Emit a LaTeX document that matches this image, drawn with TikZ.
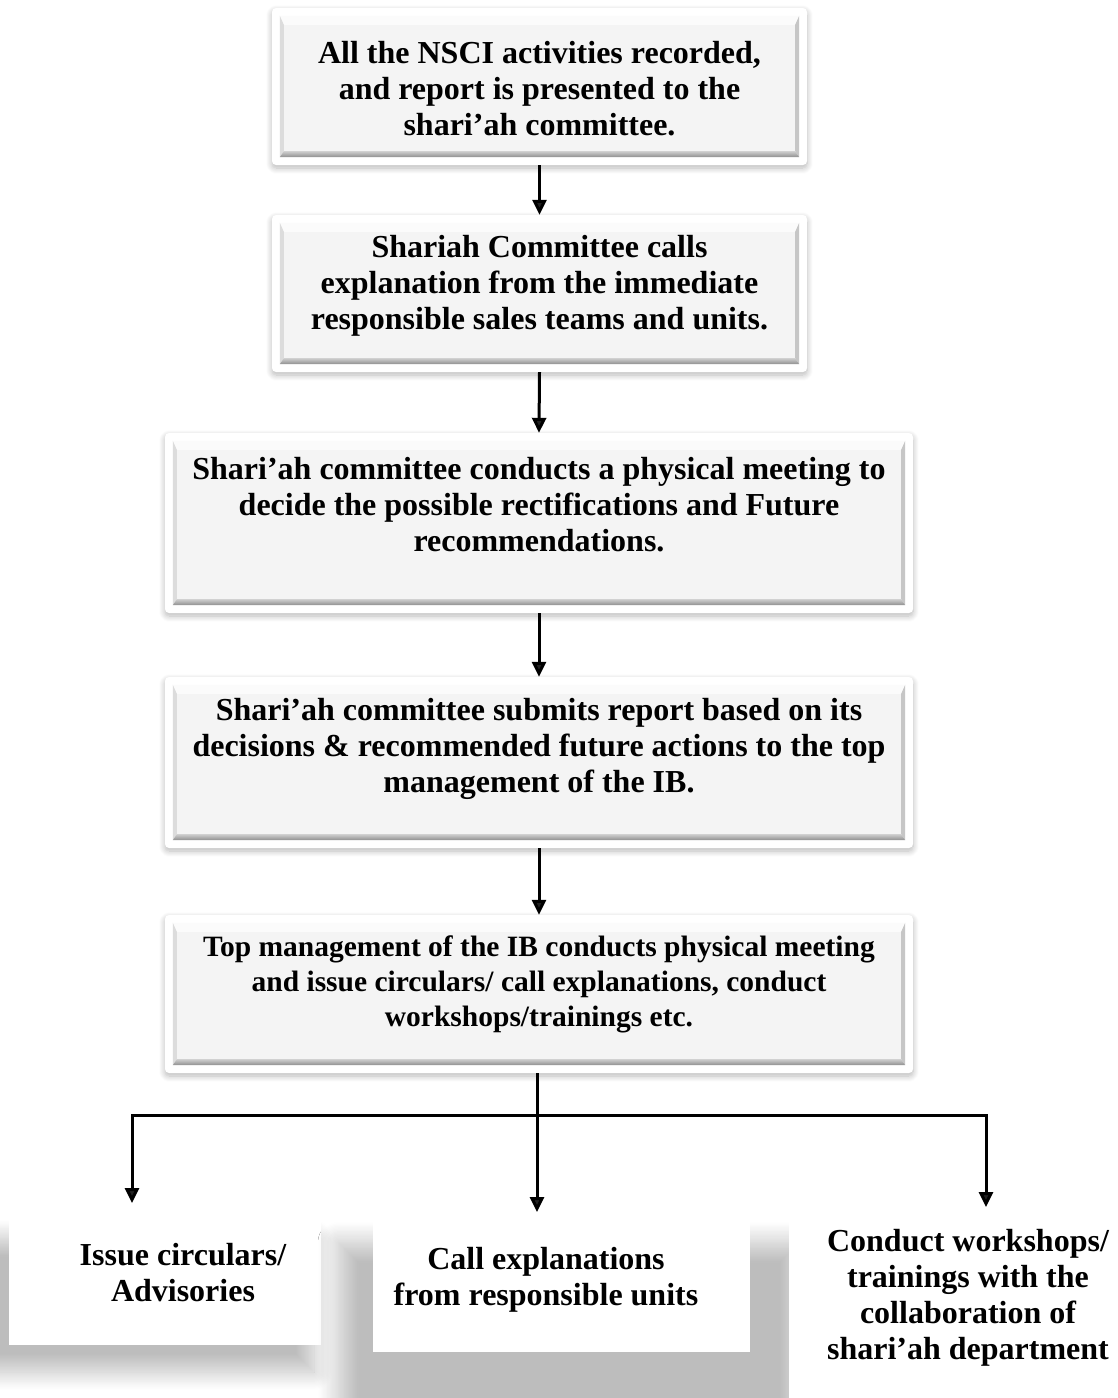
\documentclass[tikz,border=0pt]{standalone}
\usepackage{fontspec}
\setmainfont{Liberation Serif}
\usetikzlibrary{arrows.meta,shadows.blur}

\definecolor{facegray}{HTML}{F4F4F4}
\definecolor{bevtop}{HTML}{FBFBFB}
\definecolor{bevleft}{HTML}{DCDCDC}
\definecolor{bevright}{HTML}{C6C6C6}
\definecolor{bevbotA}{HTML}{CFCFCF}
\definecolor{bevbotB}{HTML}{8E8E8E}

\tikzset{
  frame/.style={fill=white, draw=none, rounded corners=4pt, inner sep=0pt,
    blur shadow={shadow xshift=0pt, shadow yshift=-3pt, shadow blur radius=6pt,
      shadow blur steps=8, shadow opacity=28}},
  txt/.style={font=\bfseries\fontsize{32}{36}\selectfont, align=center, inner sep=0pt},
  smalltxt/.style={font=\bfseries\fontsize{29.5}{35}\selectfont, align=center, inner sep=0pt},
  flatbox/.style={fill=white, draw=none, inner sep=0pt},
  softshadow/.style={blur shadow={shadow xshift=0pt, shadow yshift=0pt, shadow blur radius=#1,
    shadow blur steps=16, shadow opacity=26}},
  link/.style={line width=3pt, line join=miter, -{Triangle[length=15pt,width=14pt]}},
}

% gray bevelled face drawn inside a white frame node
\newcommand\bevelface[1]{%
  \coordinate (#1-nw) at ([shift={(8pt,-8pt)}]#1.north west);
  \coordinate (#1-ne) at ([shift={(-8pt,-8pt)}]#1.north east);
  \coordinate (#1-se) at ([shift={(-8pt,8pt)}]#1.south east);
  \coordinate (#1-sw) at ([shift={(8pt,8pt)}]#1.south west);
  \fill[facegray] (#1-nw) rectangle (#1-se);
  \fill[bevtop] (#1-nw) -- (#1-ne) -- ([shift={(-4pt,-9pt)}]#1-ne) -- ([shift={(4pt,-9pt)}]#1-nw) -- cycle;
  \fill[bevleft] (#1-nw) -- ([shift={(4pt,-9pt)}]#1-nw) -- ([shift={(4pt,6pt)}]#1-sw) -- (#1-sw) -- cycle;
  \fill[bevright] (#1-ne) -- ([shift={(-4pt,-9pt)}]#1-ne) -- ([shift={(-4pt,6pt)}]#1-se) -- (#1-se) -- cycle;
  \shade[top color=bevbotA, bottom color=bevbotB] (#1-sw) -- ([shift={(4pt,6pt)}]#1-sw) -- ([shift={(-4pt,6pt)}]#1-se) -- (#1-se) -- cycle;
}

\begin{document}
\begin{tikzpicture}[x=1pt, y=-1pt]
\useasboundingbox (0,0) rectangle (1118,1398);
\clip (0,0) rectangle (1118,1398);

% ---- main chain of bevelled boxes
\node[frame, minimum width=535pt, minimum height=157pt] (b1) at (539.5,86.5) {};
\bevelface{b1}
\node[txt] (t1) at (539.5,89) {All the NSCI activities recorded,\\and report is presented to the\\shari’ah committee.};

\node[frame, minimum width=535pt, minimum height=157pt] (b2) at (539.5,293.5) {};
\bevelface{b2}
\node[txt] (t2) at (539.5,286) {Shariah Committee calls\\explanation from the immediate\\responsible sales teams and units.};

\node[frame, minimum width=748pt, minimum height=180pt] (b3) at (539,523) {};
\bevelface{b3}
\node[txt] (t3) at (539,505) {Shari’ah committee conducts a physical meeting to\\decide the possible rectifications and Future\\recommendations.};

\node[frame, minimum width=748pt, minimum height=171pt] (b4) at (539,762.5) {};
\bevelface{b4}
\node[txt] (t4) at (539,749) {Shari’ah committee submits report based on its\\decisions \& recommended future actions to the top\\management of the IB.};

\node[frame, minimum width=748pt, minimum height=158pt] (b5) at (539,994) {};
\bevelface{b5}
\node[smalltxt] (t5) at (539,984) {Top management of the IB conducts physical meeting\\and issue circulars/ call explanations, conduct\\workshops/trainings etc.};

% ---- bottom row: white panels with wide soft shadows
\path[softshadow=18pt] (-25,1238) rectangle (314,1372);
\node[flatbox, minimum width=312pt, minimum height=148pt] (c1) at (165,1271) {};
\path[softshadow=20pt] (338,1242) rectangle (800,1430);
\node[flatbox, minimum width=377pt, minimum height=149pt] (c2) at (561.5,1277.5) {};
\node[flatbox, minimum width=361pt, minimum height=200pt] (c3) at (969.5,1305) {};

\node[txt] (u1) at (183,1273) {Issue circulars/\\Advisories};
\node[txt] (u2) at (546,1280) {Call explanations\\from responsible units};
\node[txt] (u3) at (968,1298) {Conduct workshops/\\trainings with the\\collaboration of\\shari’ah department};

% ---- connectors
\draw[link] (b1.south) -- (b2.north);
\draw[link] (b2.south) -- (b3.north);
\draw[link] (b3.south) -- (b4.north);
\draw[link] (b4.south) -- (b5.north);

\coordinate (j)  at (537,1115);
\coordinate (e1) at (132,1203);
\coordinate (e2) at (537,1212);
\coordinate (e3) at (986,1207);
\draw[link] (b5.south -| j) -- (e2);
\draw[link] (j) -| (e1);
\draw[link] (j) -| (e3);
\end{tikzpicture}
\end{document}
